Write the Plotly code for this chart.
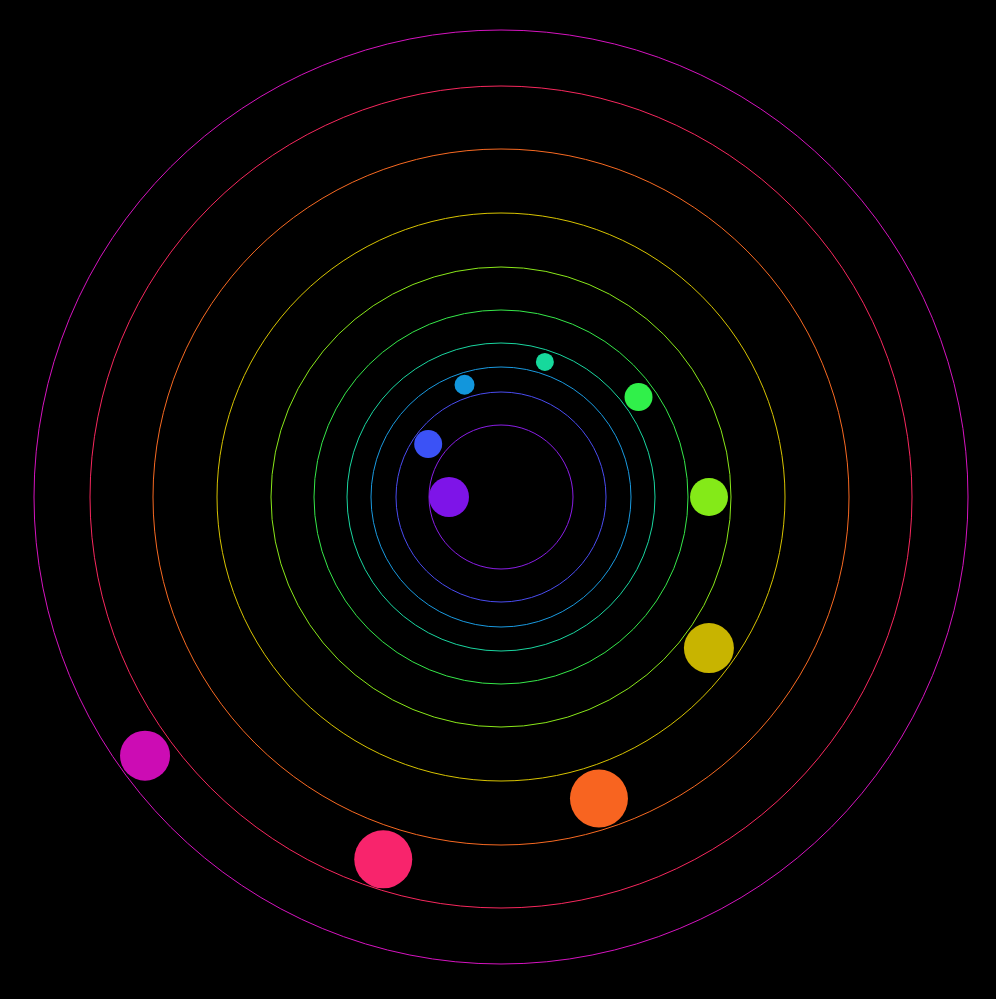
import plotly.graph_objects as go
import numpy as np

ring_radii = [72, 105, 130, 154, 187, 230, 284, 348, 411, 467]
ring_colors = ["#8a1ee6", "#4a4cf0", "#1a9ae0", "#1ad6a0", "#36e84a", "#8ae81a", "#d8c400", "#f86a22", "#f8285e", "#d614c0"]
planet_dist = [52, 90, 118, 142, 170, 208, 257, 317, 381, 440]
planet_angle = [180, 144, 108, 72, 36, 0, -36, -72, -108, -144]
planet_size = [40, 28, 20, 18, 28, 38, 50, 58, 58, 50]
planet_colors = ["#7e14e8", "#3b52f6", "#1296dc", "#16d99c", "#30f04a", "#84ea18", "#c8b400", "#f86420", "#f8246c", "#cc0cb4"]

fig = go.Figure()
shapes = []
for r, c in zip(ring_radii, ring_colors):
    shapes.append(dict(type="circle", xref="x", yref="y", x0=-r, x1=r, y0=-r, y1=r,
                       line=dict(color=c, width=1)))
a = np.radians(planet_angle)
d = np.array(planet_dist)
fig.add_trace(go.Scatter(x=d*np.cos(a), y=d*np.sin(a), mode="markers",
                         marker=dict(size=planet_size, color=planet_colors, line=dict(width=0), opacity=1),
                         hoverinfo="skip"))
fig.update_layout(width=996, height=999, margin=dict(l=0, r=0, t=0, b=0),
                  paper_bgcolor="black", plot_bgcolor="black", shapes=shapes, showlegend=False,
                  xaxis=dict(range=[-501, 495], visible=False, fixedrange=True),
                  yaxis=dict(range=[-502, 497], visible=False, fixedrange=True))
fig.write_html("out.html", config={"displayModeBar": False},
               post_script="document.body.style.margin='0';document.body.style.background='black';document.body.style.overflow='hidden';")
